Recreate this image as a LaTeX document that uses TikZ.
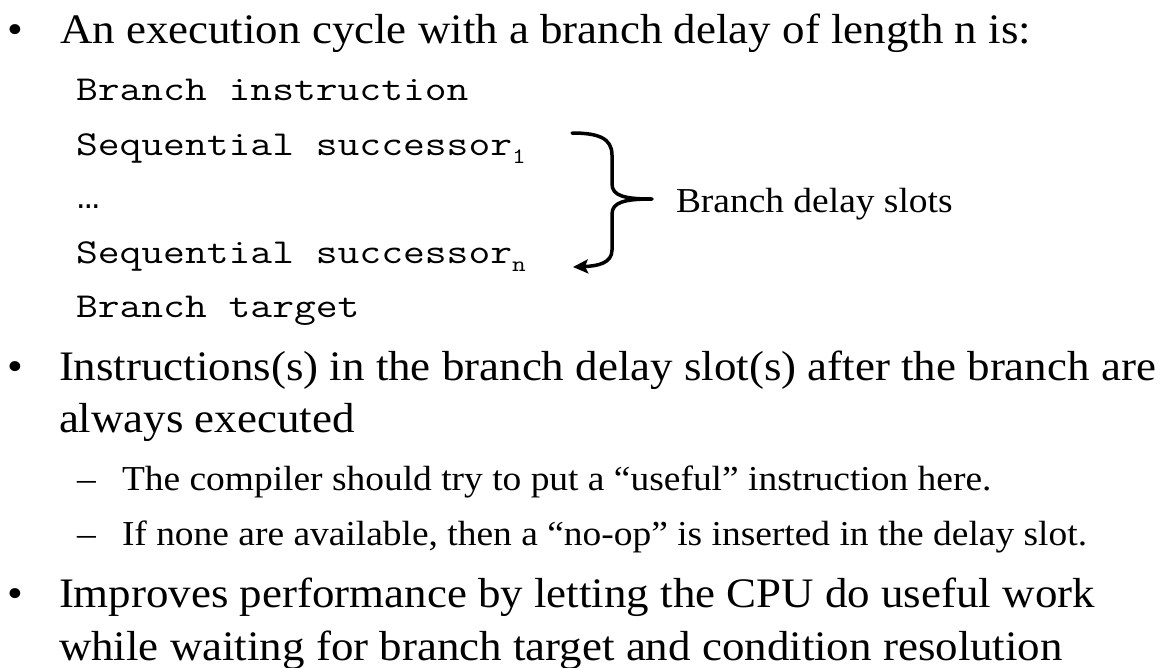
\documentclass[tikz,border=0pt]{standalone}
\usepackage{fontspec}
\setmainfont{Liberation Serif}[FakeStretch=1.07]
\setmonofont{Latin Modern Mono}[FakeStretch=1.21]
\newfontfamily\couriermono{Liberation Mono}[FakeStretch=1.07]
\usetikzlibrary{arrows.meta}
\newcommand\codesub[1]{\raisebox{-8pt}{\fontsize{22}{22}\selectfont #1}}
\begin{document}
\begin{tikzpicture}[x=1pt,y=-1pt,
  txt/.style={anchor=base west,inner sep=0pt,outer sep=0pt},
  main/.style={txt,font=\fontsize{42}{50}\selectfont},
  subtxt/.style={txt,font=\fontsize{35}{42}\selectfont},
  code/.style={txt,font=\ttfamily\fontsize{35}{40}\selectfont},
  bracestyle/.style={line width=3.5pt,line cap=round,line join=round}]
\useasboundingbox[fill=white] (0,0) rectangle (1169,667);

% first bullet
\node[main] (b1) at (8,43.5) {•};
\node[main] (t1) at (60,43.5) {An execution cycle with a branch delay of length n is:};

% code lines
\node[code] (c1) at (76,100) {Branch instruction};
\node[code] (c2) at (76,155) {Sequential successor\codesub{1}};
\node[code] (c3) at (77,208) {{\couriermono\fontsize{35}{40}\selectfont …}};
\node[code] (c4) at (76,263) {Sequential successor\codesub{n}};
\node[code] (c5) at (76,317) {Branch target};

% brace
\coordinate (bs) at (572,133);
\coordinate (bt) at (652,199);
\coordinate (be) at (573,267);
\draw[bracestyle,-{Stealth[length=15pt,width=14pt,inset=3pt]}]
  (bs) .. controls (598,133) and (612,138) .. (612,155)
  -- (612,184) .. controls (612,196) and (625,199) .. (bt)
  .. controls (625,199) and (612,202) .. (612,214)
  -- (612,250) .. controls (612,263) and (598,266) .. (be);
\node[subtxt] (lbl) at (676,212) {Branch delay slots};

% second bullet
\node[main] (b2) at (8,380) {•};
\node[main] (t2a) at (59,380) {Instructions(s) in the branch delay slot(s) after the branch are};
\node[main] (t2b) at (59,432) {always executed};
\node[subtxt] (d1) at (77,490) {–};
\node[subtxt] (s1) at (122,490) {The compiler should try to put a “useful” instruction here.};
\node[subtxt] (d2) at (77,545) {–};
\node[subtxt] (s2) at (122,545) {If none are available, then a “no-op” is inserted in the delay slot.};

% third bullet
\node[main] (b3) at (8,607) {•};
\node[main] (t3a) at (59,607) {Improves performance by letting the CPU do useful work};
\node[main] (t3b) at (59,660) {while waiting for branch target and condition resolution};
\end{tikzpicture}
\end{document}
